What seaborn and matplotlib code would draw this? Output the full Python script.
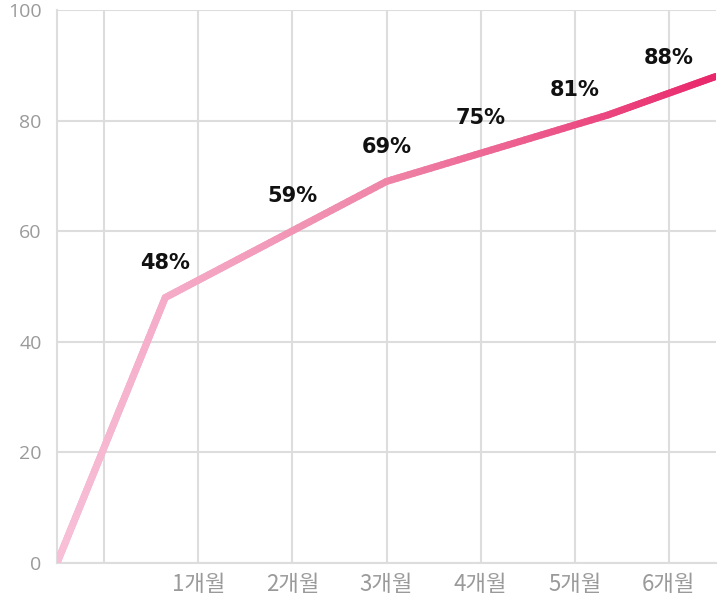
import numpy as np
import pandas as pd
import matplotlib
matplotlib.use('Agg')
import matplotlib.pyplot as plt
from matplotlib.collections import LineCollection
from matplotlib.colors import LinearSegmentedColormap
import seaborn as sns

# 곡선 꼭짓점 (x: 개월 축 위치, y: %)
curve_x = [-0.5, 0.65, 3.0, 5.35, 6.5]
curve_y = [0, 48, 69, 81, 88]

# 퍼센트 라벨
label_x = [0.65, 2, 3, 4, 5, 6]
label_txt = ['48%', '59%', '69%', '75%', '81%', '88%']

# 축 눈금
month_pos = [0, 1, 2, 3, 4, 5, 6]
month_labels = ['', '1개월', '2개월', '3개월', '4개월', '5개월', '6개월']
y_ticks = [0, 20, 40, 60, 80, 100]

sns.set_theme(style='white')
plt.rcParams['font.family'] = ['Noto Sans CJK KR', 'DejaVu Sans']

fig = plt.figure(figsize=(7.25, 6.01), dpi=100)
ax = fig.add_axes([57 / 725, 1 - 563 / 601, (716 - 57) / 725, (563 - 10) / 601])

df = pd.DataFrame({'x': curve_x, 'y': curve_y})
sns.lineplot(data=df, x='x', y='y', ax=ax, color='#f4a9c6', linewidth=5,
             solid_capstyle='round', solid_joinstyle='round', zorder=3)

# 그라데이션 덧칠
cmap = LinearSegmentedColormap.from_list('pk', ['#f8c0d8', '#ef85a8', '#e9286b'])
segs = []
cols = []
for i in range(len(curve_x) - 1):
    x0, x1 = curve_x[i], curve_x[i + 1]
    y0, y1 = curve_y[i], curve_y[i + 1]
    n = 40
    for k in range(n):
        t0, t1 = k / n, (k + 1) / n
        segs.append([(x0 + (x1 - x0) * t0, y0 + (y1 - y0) * t0),
                     (x0 + (x1 - x0) * t1, y0 + (y1 - y0) * t1)])
        xm = x0 + (x1 - x0) * (t0 + t1) / 2
        cols.append(cmap((xm - curve_x[0]) / (curve_x[-1] - curve_x[0])))
lc = LineCollection(segs, colors=cols, linewidths=5, capstyle='round', zorder=4)
ax.add_collection(lc)

for lx, t in zip(label_x, label_txt):
    ly = np.interp(lx, curve_x, curve_y)
    ax.annotate(t, (lx, ly), xytext=(0, 25), textcoords='offset points',
                ha='center', va='center', fontsize=15, fontweight='bold',
                color='#111111', family='DejaVu Sans', zorder=5)

ax.set_xlim(-0.5, 6.5)
ax.set_ylim(0, 100)
ax.set_xticks(month_pos)
ax.set_xticklabels(month_labels, fontsize=16, color='#9a9a9a')
ax.set_yticks(y_ticks)
ax.set_yticklabels([str(v) for v in y_ticks], fontsize=14, color='#9a9a9a',
                   family=['Open Sans', 'DejaVu Sans'])
ax.tick_params(axis='x', length=0, pad=7)
ax.tick_params(axis='y', length=0, pad=11)
ax.grid(True, color='#dddddd', linewidth=1.5)
ax.set_axisbelow(True)
ax.set_xlabel('')
ax.set_ylabel('')
for s in ['top', 'right']:
    ax.spines[s].set_visible(False)
for s in ['left', 'bottom']:
    ax.spines[s].set_color('#dddddd')
    ax.spines[s].set_linewidth(1.5)

fig.savefig('out.png', dpi=100)
